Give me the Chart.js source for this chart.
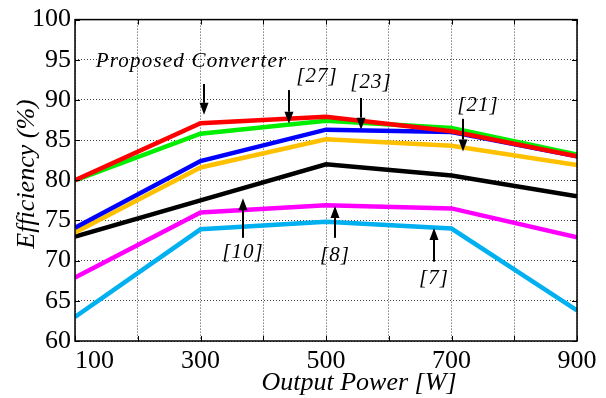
<!DOCTYPE html>
<html>
<head>
<meta charset="utf-8">
<script src="https://cdn.jsdelivr.net/npm/chart.js@4/dist/chart.umd.min.js"></script>
<style>
  html, body { margin: 0; padding: 0; background: #fff; }
  canvas { display: block; }
</style>
</head>
<body>
<canvas id="grafica" width="606" height="398"></canvas>
<script>
/* --- Data --------------------------------------------------------------- */
const potencias = [100, 300, 500, 700, 900];          // Output Power [W]
const propuesto = [80.0, 87.1, 87.9, 86.1, 83.0];     // Proposed Converter
const ref27 = [80.0, 85.8, 87.4, 86.5, 83.2];
const ref23 = [74.1, 82.4, 86.3, 86.0, 83.0];
const ref21 = [73.5, 81.6, 85.1, 84.3, 81.9];
const ref10 = [73.0, 77.5, 82.0, 80.6, 78.0];
const ref8 = [67.9, 76.0, 76.9, 76.5, 72.9];
const ref7 = [63.0, 73.9, 74.85, 74.0, 63.8];

const etiquetasX = [100, 300, 500, 700, 900];
const tituloX = 'Output Power [W]';
const tituloY = 'Efficiency (%)';

(() => {
  'use strict';

  const FUENTE = '"Liberation Serif", "Times New Roman", serif';

  // annotation labels + arrows, in data units (text x/y, arrow x, arrow tail y, arrow tip y)
  const notas = [
    { texto: 'Proposed Converter', tx: 285.7, ty: 94.8, ax: 305.6, y0: 91.98, y1: 88.15 },
    { texto: '[27]', tx: 485.7, ty: 92.96, ax: 441, y0: 91.23, y1: 87.04 },
    { texto: '[23]', tx: 571.7, ty: 92.2, ax: 555.8, y0: 90.25, y1: 86.3 },
    { texto: '[21]', tx: 742.2, ty: 89.26, ax: 718.3, y0: 87.65, y1: 83.58 },
    { texto: '[10]', tx: 367.7, ty: 70.99, ax: 367.7, y0: 72.84, y1: 77.78 },
    { texto: '[8]', tx: 514.3, ty: 70.6, ax: 514.3, y0: 72.84, y1: 76.79 },
    { texto: '[7]', tx: 672.1, ty: 67.78, ax: 672.1, y0: 69.88, y1: 74.07 },
  ];

  function serie(datos, color) {
    return {
      data: potencias.map((x, i) => ({ x, y: datos[i] })),
      borderColor: color, borderWidth: 4.5, pointRadius: 0, tension: 0, fill: false,
    };
  }

  function flecha(ctx, x, y0, y1) {
    const dir = y1 > y0 ? 1 : -1;
    const largo = 12, ancho = 4.5;
    ctx.beginPath();
    ctx.moveTo(x, y0);
    ctx.lineTo(x, y1 - dir * largo);
    ctx.lineWidth = 2;
    ctx.strokeStyle = '#000';
    ctx.stroke();
    ctx.beginPath();
    ctx.moveTo(x, y1);
    ctx.lineTo(x - ancho, y1 - dir * largo);
    ctx.lineTo(x + ancho, y1 - dir * largo);
    ctx.closePath();
    ctx.fillStyle = '#000';
    ctx.fill();
  }

  /* --- Box, inward ticks, x labels, axis titles, annotations ------------- */
  const extras = {
    id: 'extras',
    afterDraw(chart) {
      const { ctx, chartArea: a, scales: { x, y } } = chart;
      ctx.save();

      ctx.strokeStyle = '#000';
      ctx.lineWidth = 1.5;
      ctx.strokeRect(a.left, a.top, a.right - a.left, a.bottom - a.top);

      // MATLAB-style ticks pointing inward on all four sides
      ctx.lineWidth = 1;
      const t = 5;
      ctx.beginPath();
      x.ticks.forEach(tk => {
        const px = Math.round(x.getPixelForValue(tk.value)) + 0.5;
        ctx.moveTo(px, a.bottom); ctx.lineTo(px, a.bottom - t);
        ctx.moveTo(px, a.top); ctx.lineTo(px, a.top + t);
      });
      y.ticks.forEach(tk => {
        const py = Math.round(y.getPixelForValue(tk.value)) + 0.5;
        ctx.moveTo(a.left, py); ctx.lineTo(a.left + t, py);
        ctx.moveTo(a.right, py); ctx.lineTo(a.right - t, py);
      });
      ctx.stroke();

      // x tick labels (first one sits inside the axis, as in the reference)
      ctx.fillStyle = '#000';
      ctx.font = `26px ${FUENTE}`;
      ctx.textBaseline = 'alphabetic';
      etiquetasX.forEach((v, i) => {
        const px = x.getPixelForValue(v);
        ctx.textAlign = i === 0 ? 'left' : 'center';
        ctx.fillText(String(v), i === 0 ? px : px, a.bottom + 27);
      });

      // axis titles
      ctx.font = `italic 26px ${FUENTE}`;
      ctx.textAlign = 'center';
      ctx.fillText(tituloX, 359, 390);
      ctx.save();
      ctx.translate(34, 174);
      ctx.rotate(-Math.PI / 2);
      ctx.fillText(tituloY, 0, 0);
      ctx.restore();

      // annotations
      ctx.font = `italic 21px ${FUENTE}`;
      ctx.textBaseline = 'middle';
      notas.forEach(n => {
        ctx.letterSpacing = n.texto.length > 5 ? '1.2px' : '1px';
        ctx.fillText(n.texto, x.getPixelForValue(n.tx), y.getPixelForValue(n.ty));
        flecha(ctx, x.getPixelForValue(n.ax), y.getPixelForValue(n.y0), y.getPixelForValue(n.y1));
      });

      ctx.restore();
    },
  };

  new Chart(document.getElementById('grafica'), {
    type: 'line',
    data: {
      datasets: [
        serie(propuesto, '#ff0000'),
        serie(ref27, '#00ee00'),
        serie(ref23, '#0000ff'),
        serie(ref21, '#ffc000'),
        serie(ref10, '#000000'),
        serie(ref8, '#ff00ff'),
        serie(ref7, '#00b0f0'),
      ],
    },
    options: {
      responsive: false, animation: false, devicePixelRatio: 1,
      layout: { padding: { top: 17, right: 29, bottom: 0, left: 0 } },
      plugins: { legend: { display: false }, tooltip: { enabled: false } },
      scales: {
        x: {
          type: 'linear', min: 100, max: 900,
          ticks: { stepSize: 100, display: false },
          grid: { color: 'rgba(0,0,0,0.75)', drawTicks: false, lineWidth: 1 },
          border: { display: false, dash: [1, 2] },
          afterFit: (s) => { s.height = 57; },
        },
        y: {
          min: 60, max: 100,
          ticks: { stepSize: 5, color: '#000', padding: 4, font: { family: FUENTE, size: 26 } },
          grid: { color: 'rgba(0,0,0,0.75)', drawTicks: false, lineWidth: 1 },
          border: { display: false, dash: [1, 2] },
          afterFit: (s) => { s.width = 75; },
        },
      },
    },
    plugins: [extras],
  });
})();
</script>
</body>
</html>
